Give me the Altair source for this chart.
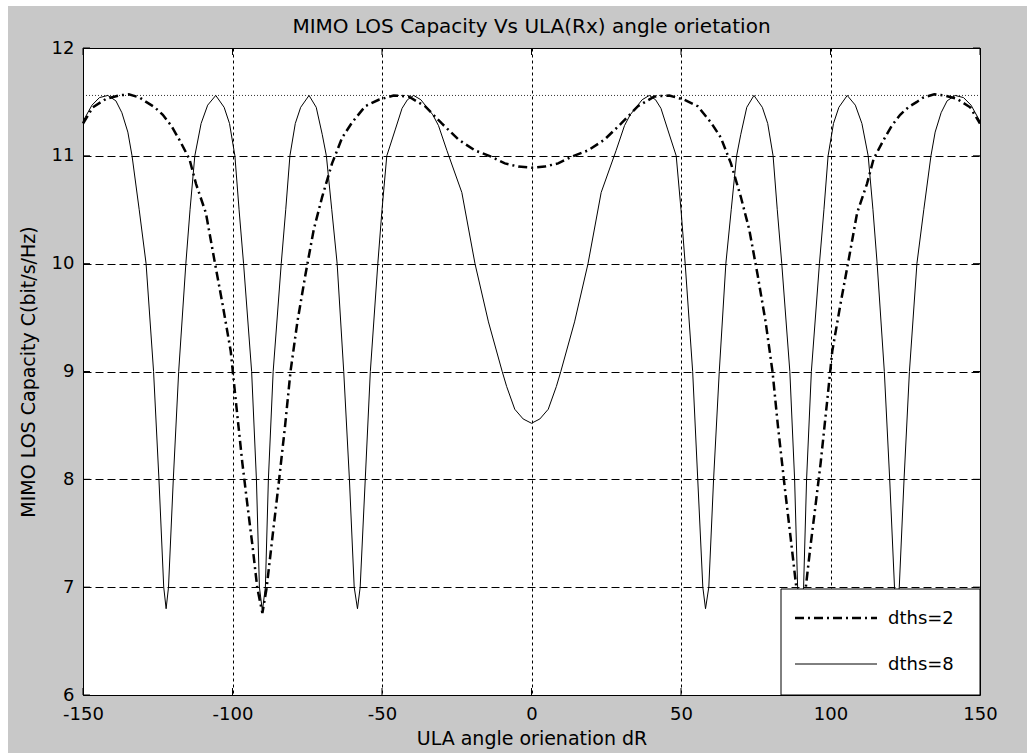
import altair as alt
import pandas as pd

# ---------------- data ----------------
TITLE = "MIMO LOS Capacity Vs ULA(Rx) angle orietation"
X_TITLE = "ULA angle orienation dR"
Y_TITLE = "MIMO LOS Capacity C(bit/s/Hz)"
X_TICKS = [-150, -100, -50, 0, 50, 100, 150]
Y_TICKS = [6, 7, 8, 9, 10, 11, 12]
MAX_LEVEL = [11.56]
LEGEND_LABELS = ["dths=2", "dths=8"]

# dths=8 (thin solid)
X8_NEG = [-150, -147, -144.5, -141.7, -139, -137, -135, -133.6, -131.2, -128.9, -126.4, -124.6,
          -123.0, -122.2, -121.4, -119.8, -118.0, -115.6, -114.2, -112.6, -110.5, -108.3, -105.6,
          -102.8, -101.0, -99.2, -97.8, -96.3, -93.6, -92.0, -91.0, -90.0, -89.0, -88.0, -86.4,
          -83.7, -82.2, -80.8, -79.0, -77.2, -74.4, -72.0, -70.0, -68.6, -66.8, -65.0, -62.8,
          -60.9, -59.3, -58.2, -57.3, -55.6, -53.9, -51.4, -50.0, -48.4, -45.6, -43.3, -41.5,
          -39.4, -37.0, -35.0, -33.0, -31.1, -28.3, -23.3, -18.9, -14.4, -9.8, -8.3, -5.6, -2.8, 0]
Y8_NEG = [11.32, 11.47, 11.54, 11.56, 11.51, 11.40, 11.22, 11.00, 10.50, 10.00, 9.00, 8.00,
          7.00, 6.80, 7.00, 8.00, 9.00, 10.00, 10.50, 11.00, 11.30, 11.47, 11.56,
          11.45, 11.30, 11.00, 10.50, 10.00, 9.00, 8.00, 7.00, 6.78, 7.00, 8.00, 9.00,
          10.00, 10.50, 11.00, 11.30, 11.45, 11.56, 11.45, 11.20, 11.00, 10.50, 10.00, 9.00,
          8.00, 7.00, 6.80, 7.00, 8.00, 9.00, 10.00, 10.50, 11.00, 11.24, 11.44, 11.52,
          11.56, 11.52, 11.45, 11.38, 11.28, 11.05, 10.66, 10.00, 9.46, 9.00, 8.86, 8.65, 8.56, 8.52]
X8_POS = [2.8, 5.6, 8.3, 9.8, 14.4, 18.9, 23.3, 28.3, 31.1, 33.0, 35.0, 37.0, 39.4, 41.5, 43.3,
          45.6, 48.4, 50.0, 51.4, 53.9, 55.6, 57.3, 58.2, 59.3, 60.9, 62.8, 65.0, 66.8, 68.6,
          70.0, 72.0, 74.4, 77.2, 79.0, 80.8, 82.2, 83.7, 86.4, 88.0, 89.0, 90.0, 91.0, 92.0,
          93.6, 96.3, 97.8, 99.2, 101.0, 102.8, 105.6, 108.3, 110.5, 112.6, 114.2, 115.6, 118.0,
          119.8, 121.4, 122.2, 123.0, 124.6, 126.4, 128.9, 131.2, 133.6, 135, 137, 139, 141.7,
          144.5, 147, 150]
Y8_POS = [8.56, 8.65, 8.86, 9.00, 9.46, 10.00, 10.66, 11.05, 11.28, 11.38, 11.45, 11.52, 11.56,
          11.52, 11.44, 11.24, 11.00, 10.50, 10.00, 9.00, 8.00, 7.00, 6.80, 7.00, 8.00, 9.00,
          10.00, 10.50, 11.00, 11.20, 11.45, 11.56, 11.45, 11.30, 11.00, 10.50, 10.00, 9.00,
          8.00, 7.00, 6.78, 7.00, 8.00, 9.00, 10.00, 10.50, 11.00, 11.30, 11.45, 11.56, 11.47,
          11.30, 11.00, 10.50, 10.00, 9.00, 8.00, 7.00, 6.80, 7.00, 8.00, 9.00, 10.00, 10.50,
          11.00, 11.22, 11.40, 11.51, 11.56, 11.54, 11.47, 11.32]

# dths=2 (thick dash-dot)
X2_NEG = [-150, -146.7, -142.2, -138.0, -134.7, -131.0, -128.9, -126.0, -123.3, -120.5, -117.8,
          -114.4, -112.2, -108.9, -106.1, -103.3, -100.6, -98.9, -96.7, -95.0, -93.3, -91.7, -90.0,
          -88.6, -86.7, -84.6, -82.4, -80.6, -78.3, -75.6, -72.8, -70.0, -66.7, -63.3, -60.0,
          -55.6, -51.1, -46.1, -41.1, -35.6, -30.0, -24.4, -18.9, -13.3, -8.9, -4.4, 0]
Y2_NEG = [11.30, 11.45, 11.53, 11.56, 11.57, 11.54, 11.50, 11.45, 11.38, 11.28, 11.15,
          10.97, 10.74, 10.47, 10.04, 9.62, 9.19, 8.73, 8.15, 7.76, 7.38, 6.99, 6.76,
          6.99, 7.45, 7.95, 8.50, 9.00, 9.46, 9.90, 10.32, 10.62, 10.93, 11.17, 11.31,
          11.46, 11.52, 11.56, 11.55, 11.46, 11.30, 11.15, 11.05, 10.99, 10.93, 10.90, 10.89]
X2_POS = [4.4, 8.9, 13.3, 18.9, 24.4, 30.0, 35.6, 41.1, 46.1, 51.1, 55.6, 60.0, 63.3, 66.7, 70.0,
          72.8, 75.6, 78.3, 80.6, 82.4, 84.6, 86.7, 88.6, 90.0, 91.7, 93.3, 95.0, 96.7, 98.9,
          100.6, 103.3, 106.1, 108.9, 112.2, 114.4, 117.8, 120.5, 123.3, 126.0, 128.9, 131.0,
          134.7, 138.0, 142.2, 146.7, 150]
Y2_POS = [10.90, 10.93, 10.99, 11.05, 11.15, 11.30, 11.46, 11.55, 11.56, 11.52, 11.46, 11.31,
          11.17, 10.93, 10.62, 10.32, 9.90, 9.46, 9.00, 8.50, 7.95, 7.45, 6.99, 6.76, 6.99,
          7.38, 7.76, 8.15, 8.73, 9.19, 9.62, 10.04, 10.47, 10.74, 10.97, 11.15, 11.28, 11.38,
          11.45, 11.50, 11.54, 11.57, 11.56, 11.53, 11.45, 11.30]

# ---------------- layout ----------------
W, H = 897, 647
FONT = "DejaVu Sans"

df8 = pd.DataFrame({"x": X8_NEG + X8_POS, "y": Y8_NEG + Y8_POS})
df2 = pd.DataFrame({"x": X2_NEG + X2_POS, "y": Y2_NEG + Y2_POS})
one = pd.DataFrame({"a": [0]})

xs = alt.Scale(domain=[-150, 150], nice=False, zero=False)
ys = alt.Scale(domain=[6, 12], nice=False, zero=False)
XAX = alt.Axis(values=X_TICKS, grid=True, gridDash=[3, 3], title=X_TITLE,
               labelExpr="datum.value + ''",
               labelPadding=10, titlePadding=6, labelFlush=False, labelOverlap=False)
YAX = alt.Axis(values=Y_TICKS, grid=True, gridDash=[8, 4], title=Y_TITLE,
               labelExpr="datum.value + ''",
               labelPadding=9, titlePadding=13, labelFlush=False, labelOverlap=False)


def X(field):
    return alt.X(field, scale=xs, axis=XAX, title=X_TITLE)


def Y(field):
    return alt.Y(field, scale=ys, axis=YAX, title=Y_TITLE)


line8 = alt.Chart(df8).mark_line(color="black", strokeWidth=1).encode(
    x=X("x:Q"), y=Y("y:Q"), order=alt.Order("x:Q"))

line2 = alt.Chart(df2).mark_line(color="black", strokeWidth=2.5, strokeDash=[9, 4, 2, 4]).encode(
    x=X("x:Q"), y=Y("y:Q"), order=alt.Order("x:Q"))

maxline = alt.Chart(pd.DataFrame({"m": MAX_LEVEL})).mark_rule(
    color="black", strokeWidth=1, strokeDash=[1, 2], opacity=0.8
).encode(y=Y("m:Q"), x=alt.value(0), x2=alt.value(W))

tx = pd.DataFrame({"t": X_TICKS})
ty = pd.DataFrame({"t": Y_TICKS})
TL = 7
tick_b = alt.Chart(tx).mark_rule(color="black").encode(x=X("t:Q"), y=alt.value(H), y2=alt.value(H - TL))
tick_t = alt.Chart(tx).mark_rule(color="black").encode(x=X("t:Q"), y=alt.value(0), y2=alt.value(TL))
tick_l = alt.Chart(ty).mark_rule(color="black").encode(y=Y("t:Q"), x=alt.value(0), x2=alt.value(TL))
tick_r = alt.Chart(ty).mark_rule(color="black").encode(y=Y("t:Q"), x=alt.value(W), x2=alt.value(W - TL))

# legend box
leg_box = alt.Chart(one).mark_rect(fill="white", stroke="black", strokeWidth=1).encode(
    x=alt.value(698), x2=alt.value(W), y=alt.value(541), y2=alt.value(H))
leg_l2 = alt.Chart(one).mark_rule(color="black", strokeWidth=2.5, strokeDash=[9, 4, 2, 4]).encode(
    x=alt.value(712), x2=alt.value(794), y=alt.value(570))
leg_l8 = alt.Chart(one).mark_rule(color="black", strokeWidth=1).encode(
    x=alt.value(712), x2=alt.value(794), y=alt.value(616))
leg_t2 = alt.Chart(one).mark_text(align="left", baseline="middle", font=FONT, fontSize=18, color="black").encode(
    x=alt.value(805), y=alt.value(571), text=alt.value(LEGEND_LABELS[0]))
leg_t8 = alt.Chart(one).mark_text(align="left", baseline="middle", font=FONT, fontSize=18, color="black").encode(
    x=alt.value(805), y=alt.value(617), text=alt.value(LEGEND_LABELS[1]))

# chart title (as text above the plot area)
title_txt = alt.Chart(one).mark_text(align="center", baseline="alphabetic", font=FONT, fontSize=20,
                                     color="black").encode(
    x=alt.value(W / 2), y=alt.value(-15), text=alt.value(TITLE))

# white page margin around the grey figure
strip_l = alt.Chart(one).mark_rect(fill="white").encode(
    x=alt.value(-83), x2=alt.value(-75), y=alt.value(-48), y2=alt.value(708))
strip_t = alt.Chart(one).mark_rect(fill="white").encode(
    x=alt.value(-83), x2=alt.value(944), y=alt.value(-48), y2=alt.value(-42))
strip_b = alt.Chart(one).mark_rect(fill="white").encode(
    x=alt.value(-83), x2=alt.value(944), y=alt.value(705), y2=alt.value(708))

chart = alt.layer(
    line8, maxline, line2, tick_b, tick_t, tick_l, tick_r,
    leg_box, leg_l2, leg_l8, leg_t2, leg_t8, title_txt, strip_l, strip_t, strip_b,
).properties(
    width=W, height=H,
    autosize=alt.AutoSizeParams(type="none"),
    padding={"left": 83, "top": 48, "right": 47, "bottom": 61},
).configure(
    background="#c8c8c8",
).configure_view(
    fill="white", stroke="black", strokeWidth=1,
).configure_axis(
    labelFont=FONT, labelFontSize=18, labelColor="black",
    titleFont=FONT, titleFontSize=19, titleFontWeight="normal", titleColor="black",
    gridColor="black", gridOpacity=1, gridWidth=1, domain=False, ticks=False,
)

chart.save("out.html", embed_options={"renderer": "svg", "actions": False})
